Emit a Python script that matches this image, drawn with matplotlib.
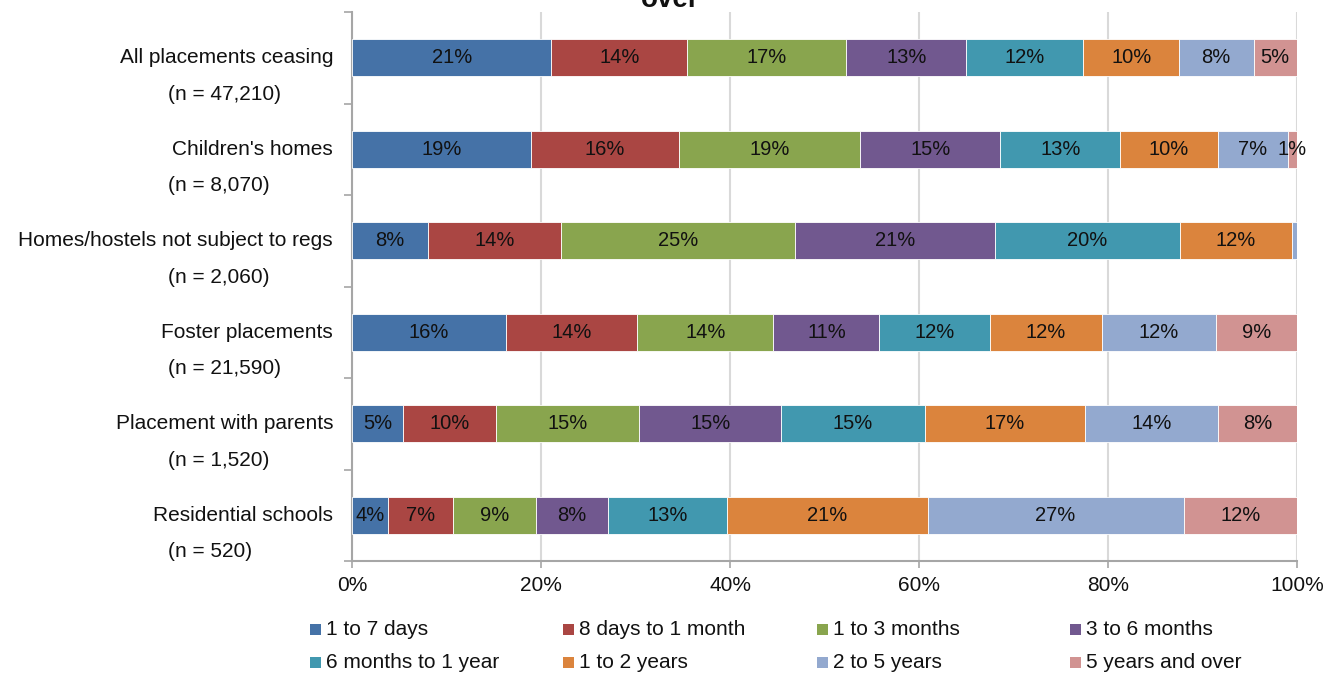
import matplotlib
matplotlib.use("Agg")
import matplotlib.pyplot as plt
from matplotlib.patches import Rectangle
import numpy as np

plt.rcParams['font.family'] = ['Liberation Sans', 'DejaVu Sans']

# placement types and their sizes
categories = ["All placements ceasing", "Children's homes",
              "Homes/hostels not subject to regs", "Foster placements",
              "Placement with parents", "Residential schools"]
n_counts = ["47,210", "8,070", "2,060", "21,590", "1,520", "520"]

durations = ["1 to 7 days", "8 days to 1 month", "1 to 3 months", "3 to 6 months",
             "6 months to 1 year", "1 to 2 years", "2 to 5 years", "5 years and over"]
colors = ["#4572A7", "#AA4643", "#89A54E", "#71588F",
          "#4198AF", "#DB843D", "#93A9CF", "#D19392"]

# percentage of placements in each duration band, one list per placement type
all_placements = [21.1, 14.4, 16.8, 12.7, 12.4, 10.1, 7.9, 4.6]
childrens_homes = [18.9, 15.7, 19.2, 14.8, 12.7, 10.3, 7.4, 1.0]
homes_hostels = [8.0, 14.1, 24.8, 21.1, 19.6, 11.9, 0.5, 0.0]
foster = [16.3, 13.9, 14.4, 11.2, 11.7, 11.9, 12.0, 8.6]
with_parents = [5.4, 9.8, 15.2, 15.0, 15.2, 17.0, 14.0, 8.4]
residential = [3.8, 6.9, 8.8, 7.6, 12.6, 21.2, 27.1, 12.0]

data = np.array([all_placements, childrens_homes, homes_hostels,
                 foster, with_parents, residential])

fig = plt.figure(figsize=(13.25, 6.73), dpi=100)
ax = fig.add_axes([352 / 1325, 1 - 561 / 673, 945 / 1325, 549 / 673])

y = np.arange(len(categories))
left = np.zeros(len(categories))
for j, dur in enumerate(durations):
    vals = data[:, j]
    ax.barh(y, vals, left=left, height=0.40, color=colors[j],
            edgecolor="white", linewidth=0.6, label=dur, zorder=3)
    for i, v in enumerate(vals):
        if v >= 0.95:
            ax.text(left[i] + v / 2, y[i], f"{v:.0f}%", ha="center", va="center",
                    fontsize=14.5, color="#111111", zorder=4)
    left += vals

ax.set_xlim(0, 100)
ax.set_ylim(5.5, -0.5)
ax.set_xticks(np.arange(0, 101, 20))
ax.set_xticklabels([f"{t}%" for t in range(0, 101, 20)], fontsize=15, color="#111111")
ax.tick_params(axis="x", length=5, width=1.2, color="#a6a6a6", pad=6)
ax.set_yticks([])
ax.set_yticks(np.arange(-0.5, 6, 1), minor=True)
ax.tick_params(axis="y", which="minor", length=6, width=1.2, color="#a6a6a6")
ax.xaxis.grid(True, color="#d9d9d9", linewidth=1.5, zorder=0)
ax.set_axisbelow(True)
for side in ["top", "right"]:
    ax.spines[side].set_visible(False)
for side in ["left", "bottom"]:
    ax.spines[side].set_color("#a6a6a6")
    ax.spines[side].set_linewidth(1.5)

# two-line category labels: name beside the bar, count underneath
for i, (cat, n) in enumerate(zip(categories, n_counts)):
    ax.text(-0.0201, y[i], cat, transform=ax.get_yaxis_transform(),
            ha="right", va="center", fontsize=15, color="#111111")
    ax.text(-0.1947, y[i] + 0.40, f"(n = {n})", transform=ax.get_yaxis_transform(),
            ha="left", va="center", fontsize=15, color="#111111")

fig.text(670 / 1325, 1 - 7 / 673, "over", ha="center", va="baseline",
         fontsize=20, fontweight="bold", color="#111111")

# legend laid out in fixed-width columns, row by row
col_x = [310, 563, 817, 1070]
row_y = [635, 668]
for k, (dur, c) in enumerate(zip(durations, colors)):
    cx = col_x[k % 4]
    by = row_y[k // 4]
    fig.patches.append(Rectangle((cx / 1325, 1 - by / 673), 11 / 1325, 11 / 673,
                                 transform=fig.transFigure, facecolor=c,
                                 edgecolor="none"))
    fig.text((cx + 16) / 1325, 1 - by / 673, dur, ha="left", va="baseline",
             fontsize=15, color="#111111")

fig.savefig("out.png", dpi=100)
